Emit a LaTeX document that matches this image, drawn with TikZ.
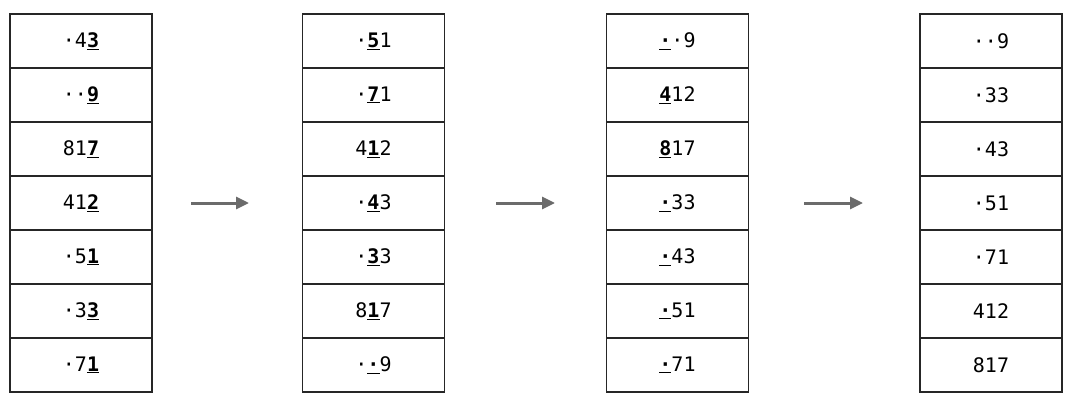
\documentclass[tikz,border=0pt]{standalone}
\usepackage{fontspec}
\setmonofont{DejaVu Sans Mono}
\usetikzlibrary{arrows.meta}

\newcommand{\key}[1]{\underline{\textbf{#1}}}

\tikzset{
  cell/.style={draw=black!85, line width=1.5pt, minimum width=142pt,
    minimum height=54pt, inner sep=0pt, font=\ttfamily\fontsize{20}{22}\selectfont},
  step arrow/.style={draw=black!58, line width=3pt,
    -{Triangle[length=13pt,width=12pt]}}
}

\begin{document}
\begin{tikzpicture}[x=1pt,y=-1pt]
      \useasboundingbox (0,0) rectangle (1068,404);

      % first pass
      \node[cell] (a1) at (81, 41){·4\key{3}};
      \node[cell] (a2) at (81, 95){··\key{9}};
      \node[cell] (a3) at (81,149){81\key{7}};
      \node[cell] (a4) at (81,203){41\key{2}};
      \node[cell] (a5) at (81,257){·5\key{1}};
      \node[cell] (a6) at (81,311){·3\key{3}};
      \node[cell] (a7) at (81,365){·7\key{1}};

      % second pass
      \node[cell] (b1) at (373.5, 41){·\key{5}1};
      \node[cell] (b2) at (373.5, 95){·\key{7}1};
      \node[cell] (b3) at (373.5,149){4\key{1}2};
      \node[cell] (b4) at (373.5,203){·\key{4}3};
      \node[cell] (b5) at (373.5,257){·\key{3}3};
      \node[cell] (b6) at (373.5,311){8\key{1}7};
      \node[cell] (b7) at (373.5,365){·\key{·}9};

      % third pass
      \node[cell] (c1) at (677.5, 41){\key{·}·9};
      \node[cell] (c2) at (677.5, 95){\key{4}12};
      \node[cell] (c3) at (677.5,149){\key{8}17};
      \node[cell] (c4) at (677.5,203){\key{·}33};
      \node[cell] (c5) at (677.5,257){\key{·}43};
      \node[cell] (c6) at (677.5,311){\key{·}51};
      \node[cell] (c7) at (677.5,365){\key{·}71};

      % sorted
      \node[cell] (d1) at (991, 41){··9};
      \node[cell] (d2) at (991, 95){·33};
      \node[cell] (d3) at (991,149){·43};
      \node[cell] (d4) at (991,203){·51};
      \node[cell] (d5) at (991,257){·71};
      \node[cell] (d6) at (991,311){412};
      \node[cell] (d7) at (991,365){817};

      \coordinate (p1) at (191,203);
      \coordinate (q1) at (249,203);
      \coordinate (p2) at (496,203);
      \coordinate (q2) at (555,203);
      \coordinate (p3) at (804,203);
      \coordinate (q3) at (863,203);
      \draw[step arrow] (p1) -- (q1);
      \draw[step arrow] (p2) -- (q2);
      \draw[step arrow] (p3) -- (q3);

    \end{tikzpicture}
\end{document}
